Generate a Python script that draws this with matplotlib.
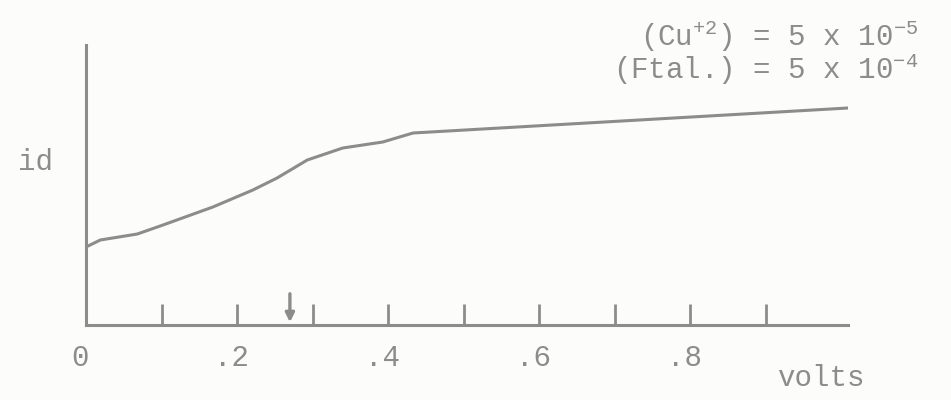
import matplotlib.pyplot as plt
from matplotlib.transforms import ScaledTranslation

# Data
volts = [0.0, 0.019, 0.068, 0.102, 0.168, 0.221, 0.253, 0.293, 0.340, 0.393, 0.433, 1.009]
i_d = [78, 85, 91, 100, 118, 135, 147, 165, 177, 183, 192, 217]
label_ticks = [0.0, 0.2, 0.4, 0.6, 0.8]
tick_labels = ["0", ".2", ".4", ".6", ".8"]
minor_ticks = [0.1, 0.3, 0.5, 0.7, 0.9]
e_half = 0.27

ink = "#8c8c8c"
plt.rcParams["font.family"] = "Liberation Mono"
plt.rcParams["mathtext.fontset"] = "custom"
plt.rcParams["mathtext.rm"] = "Liberation Mono"
plt.rcParams["mathtext.it"] = "Liberation Mono"

fig = plt.figure(figsize=(9.51, 4.0), dpi=100, facecolor="#fcfcfa")
ax = fig.add_axes([86 / 951, 0.1875, (848 - 86) / 951, 0.70])
ax.set_facecolor("#fcfcfa")

ax.plot(volts, i_d, color=ink, lw=2.2, solid_capstyle="round")

# half-wave potential marker
ax.annotate("", xy=(e_half, 0), xytext=(e_half, 34),
            arrowprops=dict(arrowstyle="-|>", color=ink, lw=2.4, mutation_scale=13))

ax.set_xlim(0, 1.009)
ax.set_ylim(0, 280)

for s in ["top", "right"]:
    ax.spines[s].set_visible(False)
for s in ["left", "bottom"]:
    ax.spines[s].set_color(ink)
    ax.spines[s].set_linewidth(2.2)

ax.set_yticks([])
ax.set_xticks(label_ticks)
ax.set_xticklabels(tick_labels, fontsize=21, color=ink)
ax.set_xticks(minor_ticks, minor=True)
ax.tick_params(axis="x", which="both", direction="in", length=15, width=2.0,
               color=ink, pad=14)
shift = ScaledTranslation(-6 / 100, 0, fig.dpi_scale_trans)
for lbl in ax.get_xticklabels():
    lbl.set_transform(lbl.get_transform() + shift)

fig.text(36 / 951, 1 - 162 / 400, "id", fontsize=21, color=ink,
         ha="center", va="center")
fig.text(821 / 951, 1 - 378 / 400, "volts", fontsize=21, color=ink,
         ha="center", va="center")
fig.text(918 / 951, 1 - 36 / 400, r"(Cu$^{+2}$) = 5 x 10$^{-5}$", fontsize=21,
         color=ink, ha="right", va="center")
fig.text(918 / 951, 1 - 69 / 400, r"(Ftal.) = 5 x 10$^{-4}$", fontsize=21,
         color=ink, ha="right", va="center")

plt.savefig("out.png", dpi=100, facecolor=fig.get_facecolor())
